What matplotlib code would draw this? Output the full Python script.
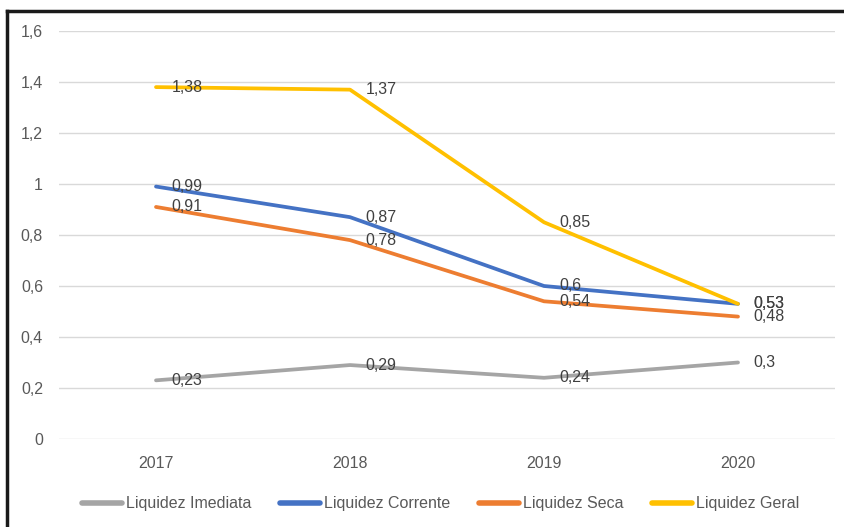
#!/usr/bin/env python
# -*- coding: utf-8 -*-
"""Liquidity ratios 2017-2020, Excel-style line chart."""

import matplotlib
matplotlib.use("Agg")
import matplotlib.pyplot as plt
from matplotlib.lines import Line2D

years = ["2017", "2018", "2019", "2020"]
imediata = [0.23, 0.29, 0.24, 0.30]
corrente = [0.99, 0.87, 0.60, 0.53]
seca = [0.91, 0.78, 0.54, 0.48]
geral = [1.38, 1.37, 0.85, 0.53]

series_names = ["Liquidez Imediata", "Liquidez Corrente", "Liquidez Seca", "Liquidez Geral"]
series_values = [imediata, corrente, seca, geral]
colors = ["#A5A5A5", "#4472C4", "#ED7D31", "#FFC000"]
y_ticks = [0, 0.2, 0.4, 0.6, 0.8, 1.0, 1.2, 1.4, 1.6]

FS = 11.5


def fmt(v: float) -> str:
    s = f"{v:g}"
    return s.replace(".", ",")


def main() -> None:
    plt.rcParams["font.family"] = ["Liberation Sans", "DejaVu Sans"]
    fig = plt.figure(figsize=(8.44, 5.27), dpi=100)
    ax = fig.add_axes([59 / 844, 88 / 527, 776 / 844, 408 / 527])

    x = list(range(len(years)))
    for name, vals, col in zip(series_names, series_values, colors):
        ax.plot(x, vals, color=col, lw=2.7, solid_capstyle="round", label=name)
    for vals in series_values:
        for xi, v in zip(x, vals):
            ax.annotate(fmt(v), (xi, v), xytext=(11, 0), textcoords="offset points",
                        va="center", ha="left", fontsize=FS, color="#404040")

    ax.set_xlim(-0.5, 3.5)
    ax.set_ylim(0, 1.6)
    ax.set_yticks(y_ticks)
    ax.set_yticklabels([fmt(t) for t in y_ticks])
    ax.set_xticks(x)
    ax.set_xticklabels(years)
    ax.tick_params(axis="both", length=0, labelsize=FS, labelcolor="#595959")
    ax.tick_params(axis="y", pad=11.5)
    ax.tick_params(axis="x", pad=12.5)
    ax.grid(axis="y", color="#D9D9D9", lw=1)
    ax.set_axisbelow(True)
    for sp in ax.spines.values():
        sp.set_visible(False)

    leg = ax.legend(loc="upper center", bbox_to_anchor=(0.492, -0.105), ncol=4, frameon=False,
                    fontsize=FS, handlelength=2.5, handletextpad=0.25, columnspacing=1.8)
    for t in leg.get_texts():
        t.set_color("#595959")
    for h in leg.get_lines():
        h.set_linewidth(4)

    # outer frame (top and left edges visible)
    fig.add_artist(Line2D([7 / 844, 1.0], [1 - 10.5 / 527, 1 - 10.5 / 527], color="#1a1a1a", lw=2.5,
                          transform=fig.transFigure))
    fig.add_artist(Line2D([7 / 844, 7 / 844], [0, 1 - 10.5 / 527], color="#1a1a1a", lw=2.5,
                          transform=fig.transFigure))

    fig.savefig("out.png", dpi=100)
    plt.close(fig)


if __name__ == "__main__":
    main()
